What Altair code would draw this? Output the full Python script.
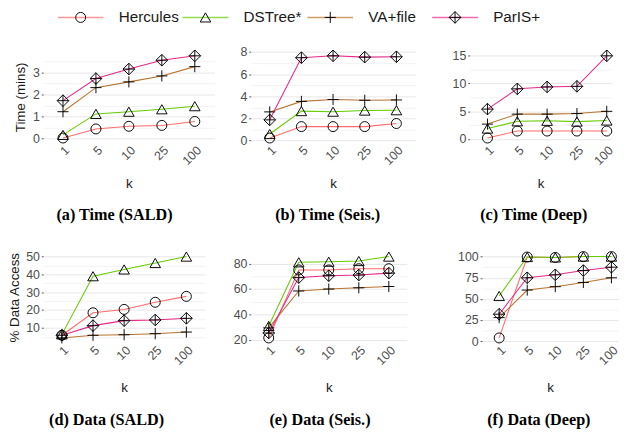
import math
import altair as alt
import pandas as pd

# ---------------- data ----------------
k_labels = ["1", "5", "10", "25", "100"]
series = ["Hercules", "DSTree*", "VA+file", "ParIS+"]
colors = ["#FF6B6B", "#66CC00", "#B8732E", "#E7298A"]
shapes = ["circle", "triangle-up", "M-1,0H1M0,-1V1", "M0,-1L1,0L0,1L-1,0ZM-1,0H1M0,-1V1"]
sizes = [52, 80, 64, 90]

time_sald = {
    "Hercules": [0.03, 0.44, 0.56, 0.60, 0.78],
    "DSTree*": [0.17, 1.12, 1.22, 1.33, 1.47],
    "VA+file": [1.22, 2.31, 2.57, 2.84, 3.26],
    "ParIS+": [1.72, 2.72, 3.15, 3.55, 3.75],
}
time_seis = {
    "Hercules": [0.24, 1.27, 1.27, 1.27, 1.55],
    "DSTree*": [0.60, 2.67, 2.62, 2.72, 2.75],
    "VA+file": [2.60, 3.55, 3.72, 3.65, 3.68],
    "ParIS+": [1.88, 7.50, 7.67, 7.55, 7.58],
}
time_deep = {
    "Hercules": [0.20, 1.45, 1.45, 1.45, 1.45],
    "DSTree*": [1.90, 3.20, 3.30, 3.15, 3.35],
    "VA+file": [2.70, 4.50, 4.50, 4.60, 5.00],
    "ParIS+": [5.40, 9.05, 9.40, 9.50, 15.00],
}
data_sald = {
    "Hercules": [5.9, 18.5, 20.4, 24.4, 27.7],
    "DSTree*": [6.4, 39.0, 42.8, 46.4, 50.0],
    "VA+file": [4.4, 5.9, 6.2, 6.8, 7.7],
    "ParIS+": [5.9, 11.3, 14.1, 14.5, 15.4],
}
data_seis = {
    "Hercules": [21.6, 75.0, 75.0, 76.0, 76.0],
    "DSTree*": [31.0, 81.0, 81.5, 82.0, 85.5],
    "VA+file": [29.5, 58.5, 60.0, 61.0, 62.0],
    "ParIS+": [25.5, 69.0, 70.5, 71.0, 72.5],
}
data_deep = {
    "Hercules": [4.0, 99.5, 99.0, 100.0, 100.0],
    "DSTree*": [53.5, 99.5, 99.0, 100.0, 100.0],
    "VA+file": [28.0, 60.5, 64.5, 69.5, 75.0],
    "ParIS+": [32.0, 75.0, 78.5, 83.5, 87.5],
}

LABEL_FONT = "Liberation Sans"
CAP_FONT = "Liberation Serif"
TITLE_COLOR = "#1A1A1A"

color_scale = alt.Scale(domain=series, range=colors)
shape_scale = alt.Scale(domain=series, range=shapes)
size_scale = alt.Scale(domain=series, range=sizes)


def to_df(d):
    rows = []
    for s in series:
        for k, v in zip(k_labels, d[s]):
            rows.append({"k": k, "series": s, "value": v})
    return pd.DataFrame(rows)


def panel(d, caption, ytitle, step, width, height, pad, align, xtp=10, cap_off=18, ytp=3):
    df = to_df(d)
    lo = min(min(v) for v in d.values())
    hi = max(max(v) for v in d.values())
    ext = 0.05 * (hi - lo)
    dom = [lo - ext, hi + ext]
    half = step / 2
    vals = [i * half for i in range(math.ceil(dom[0] / half), math.floor(dom[1] / half) + 1)]
    major = f"datum.value % {step} == 0"
    x = alt.X(
        "k:N", sort=k_labels,
        scale=alt.Scale(type="point", padding=pad, align=align),
        axis=alt.Axis(title="k", labelAngle=-45, labelAlign="right", labelBaseline="top",
                      labelPadding=2, titlePadding=xtp, tickSize=0, titleColor=TITLE_COLOR,
                      gridColor="#EBEBEB", gridWidth=1),
    )
    y = alt.Y(
        "value:Q",
        scale=alt.Scale(domain=dom, nice=False, zero=False),
        axis=alt.Axis(
            title=ytitle, values=vals, titleColor=TITLE_COLOR,
            labelExpr=f"{major} ? format(datum.value, 'd') : ''",
            gridColor={"condition": {"test": major, "value": "#E6E6E6"}, "value": "#F2F2F2"},
            tickOpacity={"condition": {"test": major, "value": 1}, "value": 0},
            tickSize=2, labelPadding=2, titlePadding=ytp,
        ),
    )
    lines = alt.Chart(df).mark_line(strokeWidth=1.1).encode(
        x=x, y=y, color=alt.Color("series:N", scale=color_scale, legend=None)
    )
    pts = alt.Chart(df).mark_point(filled=False, color="black", strokeWidth=1, opacity=1).encode(
        x=x, y=y,
        shape=alt.Shape("series:N", scale=shape_scale, legend=None),
        size=alt.Size("series:N", scale=size_scale, legend=None),
    )
    return alt.layer(lines, pts).properties(
        width=width, height=height,
        title=alt.TitleParams(caption, orient="bottom", font=CAP_FONT, fontSize=17,
                              fontWeight="bold", color="black", offset=cap_off,
                              anchor="middle", frame="bounds"),
    )


a = panel(time_sald, "(a) Time (SALD)", "Time (mins)", 1, 180, 95, 0.6, 0.5, ytp=5)
b = panel(time_seis, "(b) Time (Seis.)", None, 2, 173, 95, 0.6, 0.5)
c = panel(time_deep, "(c) Time (Deep)", None, 5, 149, 95, 0.378, 0.79)
d = panel(data_sald, "(d) Data (SALD)", "% Data Access", 10, 170, 94, 0.6, 0.5, 14, 20, 4.5)
e = panel(data_seis, "(e) Data (Seis.)", None, 20, 164, 94, 0.6, 0.5, 14, 20)
f = panel(data_deep, "(f) Data (Deep)", None, 25, 143, 94, 0.425, 0.718, 14, 20)

# ---------------- legend ----------------
leg_df = pd.DataFrame({"series": series})
lx = alt.X("series:N", sort=series, scale=alt.Scale(type="point", padding=0.3), axis=None)
leg_lines = alt.Chart(leg_df).mark_tick(orient="horizontal", size=48, thickness=1.6).encode(
    x=lx, y=alt.value(6), color=alt.Color("series:N", scale=color_scale, legend=None)
)
leg_pts = alt.Chart(leg_df).mark_point(filled=False, color="black", strokeWidth=1, opacity=1).encode(
    x=lx, y=alt.value(6),
    shape=alt.Shape("series:N", scale=shape_scale, legend=None),
    size=alt.Size("series:N", scale=alt.Scale(domain=series, range=[110, 150, 130, 170]), legend=None),
)
leg_text = alt.Chart(leg_df).mark_text(align="left", baseline="middle", dx=40, fontSize=16,
                                        font=LABEL_FONT, color="#1A1A1A").encode(
    x=lx, y=alt.value(6), text="series:N"
)
legend = alt.layer(leg_lines, leg_pts, leg_text).properties(width=472, height=12)

# per-gap spacing is emulated by nesting the last two panels
row1 = alt.hconcat(a, alt.hconcat(b, c, spacing=38), spacing=26)
row2 = alt.hconcat(d, alt.hconcat(e, f, spacing=53), spacing=29)
body = alt.vconcat(row1, row2, spacing=28)

chart = alt.vconcat(legend, body, spacing=21).properties(
    padding={"left": 0, "top": -10, "right": 0, "bottom": 0}
).configure_view(
    strokeWidth=0
).configure_axis(
    labelFont=LABEL_FONT, labelFontSize=13, labelColor="#4D4D4D",
    titleFont=LABEL_FONT, titleFontSize=14, titleFontWeight="normal", titleColor=TITLE_COLOR,
    domain=False, tickColor="#4D4D4D",
)

chart.save("out.html", embed_options={"renderer": "svg", "actions": False})
